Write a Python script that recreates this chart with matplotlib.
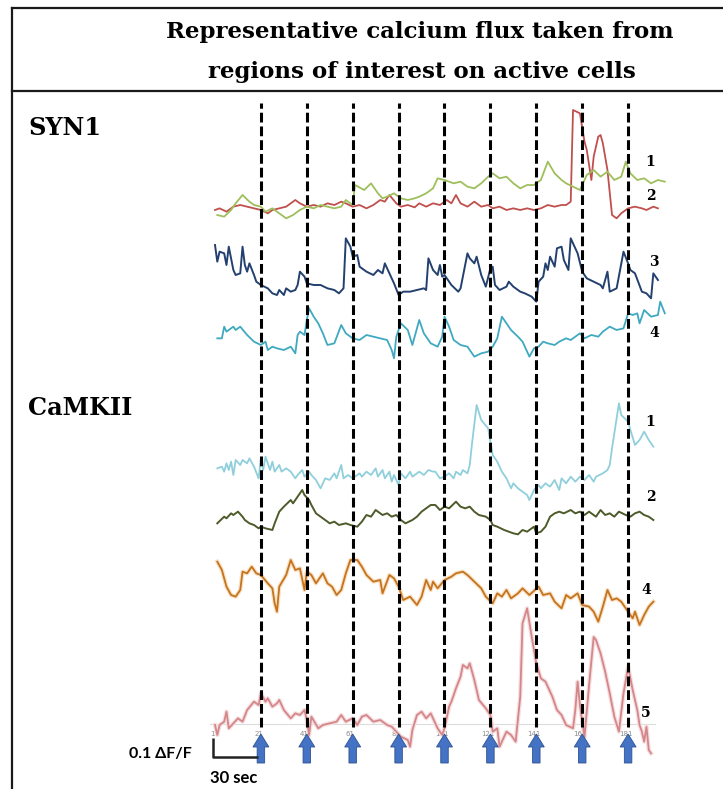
#!/usr/bin/env python3
"""
plot.py — representative calcium flux traces (SYN1 / CaMKII) with
stimulus markers, redrawn with matplotlib.
"""

import matplotlib
matplotlib.use("Agg")          # headless
import matplotlib.pyplot as plt
from matplotlib.lines import Line2D
from matplotlib.patches import FancyArrow


# ── data (frame index, signal in a.u. relative to each trace baseline) ─────────
stim_frames = [21, 41, 61, 81, 101, 121, 141, 161, 181]
tick_frames = [1, 21, 41, 61, 81, 101, 121, 141, 161, 181]

syn1_1_t = [2, 5, 8, 10, 13, 16, 18, 21, 23, 26, 29, 32, 35, 38, 41, 44, 47, 50,
            53, 56, 58, 61, 62, 66, 69, 72, 74, 76, 79, 82, 85, 88, 90, 93, 96,
            98, 101, 105, 108, 111, 114, 117, 120, 122, 125, 128, 131, 134, 137,
            140, 143, 146, 149, 152, 154, 157, 160, 163, 166, 169, 172, 175, 178,
            180, 182, 185, 188, 191, 194, 197]
syn1_1_v = [-15, -20, 0, 20, 45, 25, 15, 10, -5, 5, -10, -25, -15, 0, 10, 5, 15, 10,
            5, 10, 30, 15, 75, 60, 80, 50, 35, 40, 50, 35, 30, 35, 40, 50, 65,
            95, 90, 80, 85, 70, 65, 80, 100, 110, 95, 100, 80, 65, 75,
            75, 90, 145, 110, 90, 80, 70, 60, 105, 120, 100, 115, 90, 100,
            145, 110, 90, 95, 80, 90, 85]

syn1_2_t = [1, 3, 6, 9, 12, 15, 18, 21, 24, 26, 29, 32, 36, 38, 41, 44, 47, 50,
            53, 56, 58, 61, 64, 67, 70, 73, 75, 77, 80, 82, 85, 88, 90, 93, 96,
            99, 102, 104, 106, 108, 111, 114, 117, 120, 122, 125, 128, 131, 134,
            137, 140, 143, 146, 149, 152, 154, 156, 157, 160, 162, 163, 165, 166,
            168, 169, 170, 172, 174, 176, 178, 181, 184, 187, 189, 192, 194]
syn1_2_v = [0, 5, -5, 10, 15, 10, 5, 0, -10, 0, 5, 10, 30, 20, 10, 15, 10, 20,
            15, 25, 20, 10, 15, 5, 15, 30, 25, 45, 20, 10, 15, 8, 20, 10, 20,
            15, 30, 20, 45, 20, 10, 25, 10, 15, 5, 10, 0, 5, 0,
            5, 0, 5, 15, 10, 15, 15, 25, 300, 290, 205, 180, 90, 160,
            220, 225, 200, 120, -15, -25, -10, 5, 10, 5, 0, 10, 5]

syn1_3_t = [1, 2, 3, 5, 6, 7, 8, 9, 10, 12, 13, 14, 15, 16, 18, 19, 21, 24, 26,
            28, 29, 31, 32, 34, 36, 37, 38, 40, 41, 44, 47, 50, 53, 55, 57, 58,
            60, 61, 63, 64, 67, 70, 72, 74, 75, 77, 79, 81, 83, 86, 89, 92, 93,
            94, 96, 98, 99, 100, 101, 104, 107, 108, 109, 111, 112, 114, 115, 117,
            119, 121, 122, 123, 125, 128, 129, 131, 134, 136, 139, 141, 142, 144,
            145, 146, 147, 149, 150, 152, 153, 155, 156, 157, 159, 161, 163, 166,
            169, 170, 172, 173, 176, 179, 181, 182, 184, 187, 189, 191, 192, 194]
syn1_3_v = [135, 85, 115, 110, 75, 130, 95, 60, 45, 50, 130, 75, 55, 80, 45, 25, 15, 5, -10,
            -15, 0, -15, 5, -5, 0, 15, 55, 40, 20, 15, 15, 5, 0, -10, 5, 155,
            130, 100, 105, 70, 55, 45, 60, 50, 80, 50, 20, -15, -5, -5, 0, 5, 0,
            95, 60, 45, 75, 40, 45, 15, -5, 5, 40, 110, 95, 80, 100, 45,
            10, 65, 70, 15, 0, 10, 25, 10, -5, -10, -20, -35, 25, 40,
            80, 60, 100, 70, 125, 130, 90, 60, 155, 140, 110, 55, 35, 25,
            15, 5, 55, -5, 5, 115, 80, 60, 50, -5, -10, -25, 50, 30]

syn1_4_t = [2, 4, 5, 6, 7, 9, 10, 12, 15, 18, 21, 23, 24, 26, 28, 31, 34, 36, 37,
            38, 40, 41, 42, 44, 46, 48, 50, 53, 56, 58, 61, 64, 67, 70, 73, 76,
            78, 79, 80, 82, 85, 87, 90, 92, 95, 98, 100, 101, 103, 105, 108, 111,
            114, 117, 120, 122, 124, 126, 128, 130, 133, 135, 138, 140, 142, 144,
            146, 149, 151, 154, 156, 158, 160, 162, 165, 168, 170, 173, 176, 179,
            181, 183, 185, 186, 188, 191, 194, 195, 197]
syn1_4_v = [20, 20, 55, 40, 45, 55, 45, 55, 30, 10, 0, 10, -15, -5, -10, -15, -5, -25, 30,
            40, 30, 75, 110, 85, 65, 35, 0, 5, 60, 35, 20, 15, 30, 25, 20, 15,
            -15, -40, 25, 65, 45, 0, 75, 35, 5, -5, 25, 85, 55, 15, 0, -5,
            -35, -25, -20, -5, 20, 85, 65, 45, 25, 10, -35, -10, -5, 10,
            5, 0, 10, 20, 15, 25, 35, 20, 30, 25, 40, 55, 45, 50,
            95, 90, 95, 65, 105, 85, 90, 130, 95]

camk_1_t = [2, 4, 5, 6, 7, 8, 9, 10, 12, 13, 15, 16, 18, 20, 21, 22, 23, 25, 26,
            27, 29, 30, 32, 34, 36, 37, 39, 40, 42, 43, 45, 47, 49, 51, 53, 54,
            56, 57, 59, 61, 64, 65, 67, 69, 71, 72, 74, 75, 77, 78, 79, 81, 82,
            84, 86, 87, 90, 92, 94, 96, 97, 99, 101, 103, 105, 106, 108, 109, 111,
            112, 113, 115, 117, 120, 121, 122, 124, 126, 128, 130, 131, 133, 135,
            137, 138, 140, 142, 143, 145, 147, 149, 151, 152, 154, 156, 158, 160,
            162, 164, 166, 167, 170, 172, 173, 174, 177, 178, 181, 182, 184, 186,
            188, 190, 192]
camk_1_v = [20, 25, 10, 35, 15, 40, 0, 45, 30, 45, 35, 50, 25, -10, 50, 15, 55, 15, 40,
            10, 30, 10, 20, 10, -10, 0, 15, -5, 10, 0, -15, -40, -10, -15, 5, -10,
            30, -10, 0, -10, 5, -5, 10, 0, 20, -5, 15, -10, 10, -20, 0, -30, 5,
            -10, 10, -5, 10, 0, 15, 10, 10, -10, -5, 5, -10, 10, 0, 15, 5,
            30, 95, 210, 165, 140, 100, 60, 40, 10, -10, -40, -25, -40, -50,
            -60, -75, -45, -30, -40, -25, -35, -15, -45, -10, -25, -5, -20, -5,
            -15, 0, -20, -5, 5, 15, 30, 80, 215, 180, 160, 135, 90, 105,
            130, 105, 85]

camk_2_t = [2, 5, 6, 8, 9, 11, 13, 14, 16, 18, 20, 21, 23, 26, 27, 29, 31, 34, 35,
            37, 38, 39, 40, 42, 43, 45, 47, 49, 51, 53, 55, 58, 60, 63, 65, 67,
            69, 71, 74, 76, 78, 80, 82, 84, 87, 89, 91, 93, 95, 97, 99, 101, 103,
            106, 108, 110, 112, 114, 116, 119, 121, 122, 124, 127, 129, 131, 133,
            135, 137, 140, 141, 143, 145, 147, 149, 151, 153, 156, 158, 160, 162,
            164, 167, 169, 171, 173, 175, 177, 180, 182, 184, 186, 188, 190, 192]
camk_2_v = [-10, 10, 5, 20, 15, 25, 10, 0, -10, -15, -25, -20, -25, -30, -10, 25, 40, 60, 50,
            70, 80, 90, 75, 60, 45, 20, 10, 0, -10, -5, -15, -10, -15, -20, -5, 15,
            10, 30, 15, 20, 10, 15, 0, -10, 0, 10, 25, 35, 45, 45, 30, 40, 35,
            55, 40, 35, 40, 25, 15, 10, 0, -15, -20, -30, -35, -40, -43,
            -30, -35, -20, -40, -35, -20, 10, 20, 25, 20, 30, 20, 25, 15,
            25, 10, 30, 15, 20, 10, 25, 15, 10, 20, 25, 15, 10, 0]

camk_4_t = [2, 4, 6, 8, 10, 12, 13, 15, 17, 19, 21, 24, 26, 27, 28, 29, 32, 34, 36,
            38, 40, 41, 43, 45, 48, 50, 52, 54, 56, 58, 60, 63, 65, 67, 70, 73,
            74, 77, 79, 81, 83, 86, 89, 91, 93, 95, 96, 98, 101, 104, 106, 109,
            111, 114, 117, 119, 122, 124, 126, 128, 130, 133, 135, 138, 142, 144,
            147, 149, 152, 154, 156, 159, 161, 164, 166, 168, 170, 172, 174, 176,
            178, 181, 183, 184, 186, 188, 190, 192]
camk_4_v = [85, 60, 10, -15, -20, 0, 55, 50, 70, 50, 45, 20, 5, -40, -65, 10, 45, 90, 60,
            65, 0, 55, 45, 20, 50, 20, 10, -15, 0, 50, 90, 90, 70, 45, 25, 30,
            -10, 45, 35, 10, -30, -20, -45, -20, 30, 0, 25, 5, 30, 40, 50, 55,
            45, 25, 5, -20, -40, -10, -20, 0, -25, -10, 5, -15, 10, -15,
            -10, -35, -55, -15, -25, -10, -45, -50, -65, -95, -50, 0, -30, -25,
            -35, -65, -85, -65, -105, -75, -50, -35]

camk_5_t = [1, 2, 3, 5, 6, 7, 9, 11, 13, 15, 18, 20, 21, 23, 24, 26, 28, 29, 31,
            34, 36, 38, 40, 41, 42, 43, 46, 48, 51, 54, 56, 58, 61, 63, 65, 67,
            70, 73, 76, 78, 80, 82, 85, 86, 87, 89, 91, 93, 95, 98, 100, 101,
            103, 104, 106, 108, 109, 111, 112, 114, 116, 119, 121, 122, 124, 125,
            128, 130, 132, 134, 135, 137, 139, 141, 143, 145, 148, 150, 152, 154,
            157, 158, 159, 160, 162, 164, 166, 167, 169, 171, 173, 175, 177, 179,
            181, 183, 185, 186, 187, 188, 189, 190, 191]
camk_5_v = [0, -30, 0, 10, 40, -10, 5, 20, 10, 45, 70, 60, 95, 70, 80, 55, 65, 75, 45,
            20, 35, 30, 45, 15, -30, 25, -10, 0, 5, 10, 30, 10, 20, 0, 25, 30,
            10, 15, 0, -5, -20, -35, -45, -65, -15, 30, 40, 20, 35, -10, -30, -10,
            55, 70, 110, 145, 180, 170, 185, 135, 75, 50, 30, -20, -10, -65,
            -20, -30, -50, 85, 305, 350, 265, 185, 140, 130, 85, 45, 30, 0,
            -10, 45, 130, 60, -36, 120, 264, 255, 215, 160, 95, 25, -20, 95,
            175, 105, 45, 0, -20, -50, -5, -75, -85]


# ── layout (pixel geometry of the 723x789 canvas) ─────────────────────────────
W, H = 723, 789
X0_PX = 215            # pixel x of frame 1
PX_PER_FRAME = 2.295   # horizontal pixels per frame
U_PER_PX = 3           # signal units per vertical pixel

FRAME_COL = "#1a1a1a"
ARROW_FC = "#4472C4"
ARROW_EC = "#2F528F"


def fx(px):
    return px / W


def fy(py):
    return 1 - py / H


def frame_at(px):
    return 1 + (px - X0_PX) / PX_PER_FRAME


def units_at(py):
    return (H - py) * U_PER_PX


# trace: (frames, values, baseline pixel row, colour, linewidth, halo colour)
traces = [
    (syn1_2_t, syn1_2_v, 210, "#c0504d", 1.3, None),
    (syn1_1_t, syn1_1_v, 210, "#9fbf5c", 1.3, None),
    (syn1_3_t, syn1_3_v, 290, "#23406f", 1.4, None),
    (syn1_4_t, syn1_4_v, 345, "#3fa9c0", 1.3, None),
    (camk_1_t, camk_1_v, 475, "#8fcfdc", 1.3, None),
    (camk_2_t, camk_2_v, 520, "#4d5a2a", 1.4, None),
    (camk_4_t, camk_4_v, 590, "#c4731f", 1.3, "#f9e2c6"),
    (camk_5_t, camk_5_v, 725, "#d4868a", 1.3, "#f6dfe0"),
]

# trace numbers: (text, px x, px y)
trace_labels = [
    ("1", 650, 162), ("2", 651, 196), ("3", 654, 262), ("4", 654, 333),
    ("1", 650, 422), ("2", 651, 497), ("4", 646, 590), ("5", 646, 713),
]


fig = plt.figure(figsize=(W / 100, H / 100), dpi=100)
fig.patch.set_facecolor("white")

# ── outer table frame and title ───────────────────────────────────────────────
for (x1, y1, x2, y2) in [(12, 8, W, 8), (12, 91, W, 91), (12, 8, 12, H)]:
    fig.add_artist(Line2D([fx(x1), fx(x2)], [fy(y1), fy(y2)],
                          transform=fig.transFigure, color=FRAME_COL, lw=1.6))

title_font = dict(family="DejaVu Serif", weight="bold", fontsize=16.5,
                  ha="center", va="center")
fig.text(fx(420), fy(32), "Representative calcium flux taken from", **title_font)
fig.text(fx(422), fy(72), "regions of interest on active cells", **title_font)

group_font = dict(family="DejaVu Serif", weight="bold", fontsize=17.3,
                  ha="left", va="center")
fig.text(fx(28), fy(128), "SYN1", **group_font)
fig.text(fx(28), fy(408), "CaMKII", **group_font)

# ── traces axis ───────────────────────────────────────────────────────────────
left_px, right_px, top_px = 200, 670, 95
ax = fig.add_axes([fx(left_px), 0, fx(right_px - left_px), 1 - top_px / H])
ax.set_xlim(frame_at(left_px), frame_at(right_px))
ax.set_ylim(0, units_at(top_px))
ax.axis("off")

# faint gridline and category ticks from the original spreadsheet chart
ax.plot([frame_at(210), frame_at(655)], [units_at(724)] * 2,
        color="#dcdcdc", lw=0.8, zorder=1)
for f in tick_frames:
    ax.text(f - 1, units_at(734), str(f), fontsize=5, color="#8a8a8a",
            ha="center", va="center", zorder=1)

for t, v, base_py, col, lw, halo in traces:
    base = units_at(base_py)
    y = [base + val for val in v]
    if halo:
        ax.plot(t, y, color=halo, lw=lw + 1.8, solid_joinstyle="round", zorder=2)
    ax.plot(t, y, color=col, lw=lw, solid_joinstyle="round", zorder=2)

# stimulus markers
ax.vlines(stim_frames, units_at(727), units_at(103), colors="black",
          lw=2.2, linestyles=(0, (3.2, 1.3)), zorder=3)

head_w = 16 / PX_PER_FRAME
shaft_w = 7.5 / PX_PER_FRAME
for f in stim_frames:
    ax.add_patch(FancyArrow(f, units_at(763), 0, units_at(734) - units_at(763),
                            width=shaft_w, head_width=head_w,
                            head_length=13 * U_PER_PX,
                            length_includes_head=True,
                            fc=ARROW_FC, ec=ARROW_EC, lw=0.6, zorder=4))

# scale bar: 0.1 dF/F vertical, 30 sec horizontal
sb_x0, sb_x1 = frame_at(213), frame_at(258)
sb_y0, sb_y1 = units_at(757), units_at(738)
ax.plot([sb_x0, sb_x0, sb_x1], [sb_y1, sb_y0, sb_y0], color="#222222",
        lw=1.8, solid_capstyle="butt", zorder=4)

for (x, y, s, ha, size) in [(192, 754, "0.1 ΔF/F", "right", 11.5),
                            (210, 778, "30 sec", "left", 12)]:
    fig.text(fx(x), fy(y), s, family=["Lato", "DejaVu Sans"], weight="bold",
             fontsize=size, ha=ha, va="center")

for s, x, y in trace_labels:
    fig.text(fx(x), fy(y), s, family="DejaVu Serif", weight="bold",
             fontsize=10, ha="center", va="center")

fig.savefig("out.png", dpi=100)
